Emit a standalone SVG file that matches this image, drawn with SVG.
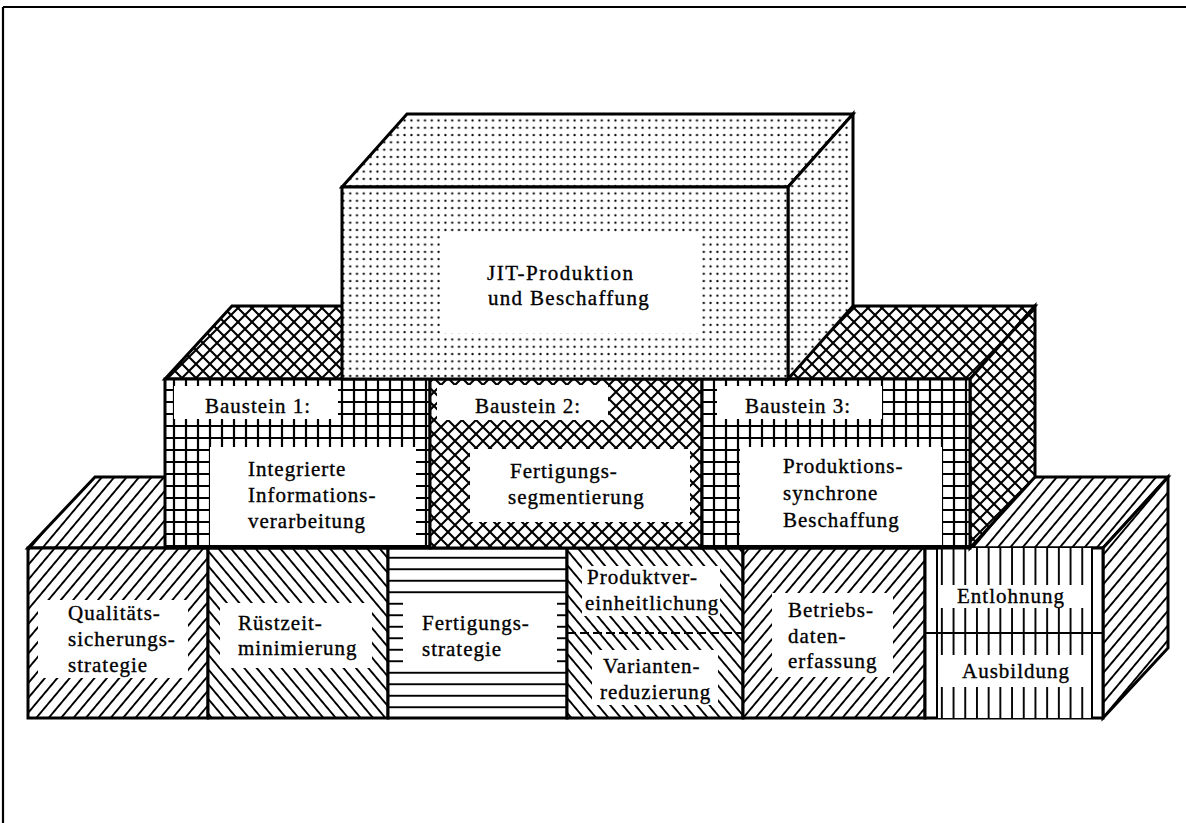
<svg xmlns="http://www.w3.org/2000/svg" width="1186" height="823" viewBox="0 0 1186 823">
<style>
.t{font-family:"Liberation Serif","Times New Roman",serif;font-size:21px;fill:#000;letter-spacing:1px;stroke:#000;stroke-width:0.35px}
.o{stroke:#000;stroke-width:3;stroke-linejoin:miter}
.w{fill:#fff}
</style>
<defs>
<pattern id="dots" width="6.8" height="7.3" patternUnits="userSpaceOnUse"><rect width="6.8" height="7.3" fill="#fff"/><circle cx="3.4" cy="3.6" r="1.15" fill="#000"/></pattern>
<pattern id="grid" width="12" height="12" patternUnits="userSpaceOnUse"><rect width="12" height="12" fill="#fff"/><path d="M0,6H12M6,0V12" stroke="#000" stroke-width="2.2"/></pattern>
<pattern id="xh" width="14" height="14" patternUnits="userSpaceOnUse"><rect width="14" height="14" fill="#fff"/><path d="M-1,-1L15,15M15,-1L-1,15" stroke="#000" stroke-width="2.1"/></pattern>
<pattern id="hr" width="9.5" height="10" patternUnits="userSpaceOnUse" patternTransform="rotate(40)"><rect width="9.5" height="10" fill="#fff"/><path d="M4.75,-1V11" stroke="#000" stroke-width="1.9"/></pattern>
<pattern id="hl" width="9.5" height="10" patternUnits="userSpaceOnUse" patternTransform="rotate(-40)"><rect width="9.5" height="10" fill="#fff"/><path d="M4.75,-1V11" stroke="#000" stroke-width="1.9"/></pattern>
<pattern id="hz" width="10" height="11.5" patternUnits="userSpaceOnUse"><rect width="10" height="11.5" fill="#fff"/><path d="M-1,5.75H11" stroke="#000" stroke-width="1.9"/></pattern>
<pattern id="vt" width="11.7" height="10" patternUnits="userSpaceOnUse"><rect width="11.7" height="10" fill="#fff"/><path d="M5.85,-1V11" stroke="#000" stroke-width="1.9"/></pattern>
</defs>
<rect width="1186" height="823" fill="#fff"/>
<g id="frame"><path d="M3,7H1186M3,7V823" stroke="#000" stroke-width="2.2" fill="none"/></g>

<g id="bottom-faces">
<polygon points="28,548 95,477 1168,477 1103,548" fill="url(#hr)" class="o"/>
<polygon points="1103,548 1168,477 1168,648 1103,718" fill="url(#hr)" class="o"/>
</g>
<g id="cell-qualitaet">
<rect x="28" y="548" width="180" height="170" fill="url(#hr)" class="o"/>
<rect x="38" y="600" width="150" height="78" class="w"/>
<text class="t" x="68" y="620">Qualitäts-</text>
<text class="t" x="68" y="646">sicherungs-</text>
<text class="t" x="68" y="672">strategie</text>
</g>
<g id="cell-ruestzeit">
<rect x="208" y="548" width="180" height="170" fill="url(#hl)" class="o"/>
<rect x="220" y="603" width="152" height="65" class="w"/>
<text class="t" x="238" y="630">Rüstzeit-</text>
<text class="t" x="238" y="655">minimierung</text>
</g>
<g id="cell-fertigungsstrategie">
<rect x="388" y="548" width="179" height="170" fill="url(#hz)" class="o"/>
<rect x="403" y="597" width="154" height="71" class="w"/>
<text class="t" x="422" y="630">Fertigungs-</text>
<text class="t" x="422" y="656">strategie</text>
</g>
<g id="cell-produkt">
<rect x="567" y="548" width="176" height="170" fill="url(#hl)" class="o"/>
<rect x="582" y="566" width="138" height="50" class="w"/>
<rect x="592" y="650" width="126" height="55" class="w"/>
<line x1="567" y1="633" x2="743" y2="633" stroke="#000" stroke-width="2.2" stroke-dasharray="9 4"/>
<text class="t" x="587" y="584">Produktver-</text>
<text class="t" x="585" y="610">einheitlichung</text>
<text class="t" x="603" y="673">Varianten-</text>
<text class="t" x="600" y="699">reduzierung</text>
</g>
<g id="cell-betriebsdaten">
<rect x="743" y="548" width="182" height="170" fill="url(#hr)" class="o"/>
<rect x="772" y="593" width="121" height="84" class="w"/>
<text class="t" x="788" y="617">Betriebs-</text>
<text class="t" x="788" y="643">daten-</text>
<text class="t" x="788" y="668">erfassung</text>
</g>
<g id="cell-entlohnung">
<rect x="925" y="548" width="178" height="170" fill="#fff" class="o"/>
<rect x="937" y="548" width="155" height="170" fill="url(#vt)"/>
<path d="M937,548V718M1092,548V718" stroke="#000" stroke-width="2"/>
<rect x="939" y="585" width="151" height="23" class="w"/>
<rect x="939" y="655" width="151" height="32" class="w"/>
<line x1="925" y1="633" x2="1103" y2="633" stroke="#000" stroke-width="2.2"/>
<text class="t" x="957" y="603">Entlohnung</text>
<text class="t" x="962" y="678">Ausbildung</text>
</g>

<g id="middle-faces">
<polygon points="165,379 232,306 1035,306 970,379" fill="url(#xh)" class="o"/>
<polygon points="970,379 1035,306 1035,477 970,548" fill="url(#xh)" class="o"/>
</g>
<g id="baustein1">
<rect x="165" y="379" width="265" height="169" fill="url(#grid)" class="o"/>
<rect x="174" y="386" width="164" height="33" class="w"/>
<rect x="210" y="447" width="206" height="98" class="w"/>
<text class="t" x="205" y="413">Baustein 1:</text>
<text class="t" x="248" y="476">Integrierte</text>
<text class="t" x="248" y="502">Informations-</text>
<text class="t" x="248" y="528">verarbeitung</text>
</g>
<g id="baustein2">
<rect x="430" y="379" width="272" height="169" fill="url(#xh)" class="o"/>
<rect x="437" y="385" width="171" height="35" class="w"/>
<rect x="470" y="449" width="220" height="73" class="w"/>
<text class="t" x="475" y="413">Baustein 2:</text>
<text class="t" x="510" y="478">Fertigungs-</text>
<text class="t" x="508" y="504">segmentierung</text>
</g>
<g id="baustein3">
<rect x="702" y="379" width="268" height="169" fill="url(#grid)" class="o"/>
<rect x="717" y="386" width="165" height="33" class="w"/>
<rect x="740" y="447" width="202" height="98" class="w"/>
<text class="t" x="745" y="413">Baustein 3:</text>
<text class="t" x="783" y="473">Produktions-</text>
<text class="t" x="783" y="500">synchrone</text>
<text class="t" x="783" y="527">Beschaffung</text>
</g>

<g id="jit">
<polygon points="342,187 407,114 853,114 788,187" fill="url(#dots)" class="o"/>
<polygon points="788,187 853,114 853,306 788,379" fill="url(#dots)" class="o"/>
<rect x="342" y="187" width="446" height="192" fill="url(#dots)" class="o"/>
<rect x="440" y="233" width="260" height="100" class="w"/>
<text class="t" x="487" y="280" style="letter-spacing:1.5px">JIT-Produktion</text>
<text class="t" x="488" y="305" style="letter-spacing:1.3px">und Beschaffung</text>
</g>
<g id="connectors"/>
</svg>
